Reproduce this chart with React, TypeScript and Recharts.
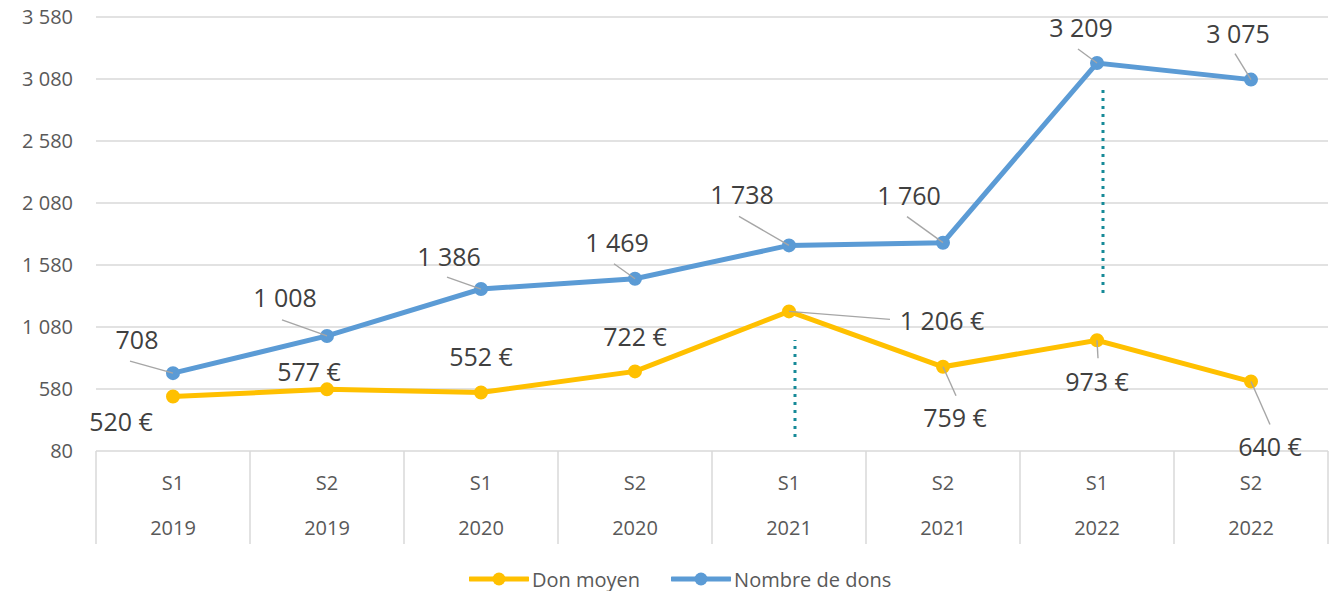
import React from "react";
import {
  ComposedChart,
  Line,
  XAxis,
  YAxis,
  CartesianGrid,
  Legend,
  LabelList,
  ReferenceLine,
} from "recharts";

const semesters = ["S1", "S2", "S1", "S2", "S1", "S2", "S1", "S2"];
const years = ["2019", "2019", "2020", "2020", "2021", "2021", "2022", "2022"];
const nombreDeDons = [708, 1008, 1386, 1469, 1738, 1760, 3209, 3075];
const donMoyen = [520, 577, 552, 722, 1206, 759, 973, 640];
const yTicks = [80, 580, 1080, 1580, 2080, 2580, 3080, 3580];

// dotted annotation markers: [category, from, to]
const markers: [string, number, number][] = [
  ["2021-S1", 193, 975],
  ["2022-S1", 1354, 2991],
];

const chartData = semesters.map((s, i) => ({
  key: `${years[i]}-${s}`,
  sem: s,
  year: years[i],
  dons: nombreDeDons[i],
  moyen: donMoyen[i],
}));

const W = 1338;
const H = 591;
const margin = { top: 17, right: 10, left: 0, bottom: 0 };
const yAxisWidth = 96;
const band = (W - margin.left - margin.right - yAxisWidth) / 8;
const font = "'Open Sans', sans-serif";
const blue = "#5b9bd5";
const yellow = "#ffc000";

const fmt = (n: number) => String(n).replace(/\B(?=(\d{3})+(?!\d))/g, " ");

// label placement relative to point: [text dx, text dy, leader dx, leader dy] (null = no leader)
const blueLabelPos: [number, number, number | null, number | null][] = [
  [-36, -33, -43, -12],
  [-42, -38, -45, -16],
  [-32, -32, -34, -12],
  [-18, -36, -21, -15],
  [-47, -50, -50, -29],
  [-34, -47, -36, -26],
  [-16, -35, -19, -14],
  [-13, -46, -16, -26],
];
const yellowLabelPos: [number, number, number | null, number | null][] = [
  [-52, 26, null, null],
  [-18, -17, null, null],
  [0, -35, null, null],
  [0, -34, null, null],
  [153, 10, 101, 8],
  [12, 51, 13, 29],
  [0, 42, 1, 18],
  [19, 65, 19, 43],
];

const makeLabel =
  (pos: typeof blueLabelPos, suffix: string) => (props: any) => {
    const { x, y, value, index } = props;
    const [dx, dy, lx, ly] = pos[index];
    return (
      <g>
        {lx !== null && ly !== null && (
          <line
            x1={x}
            y1={y}
            x2={x + lx}
            y2={y + ly}
            stroke="#a6a6a6"
            strokeWidth={1.4}
          />
        )}
        <text
          x={x + dx}
          y={y + dy}
          dy="0.36em"
          textAnchor="middle"
          fontSize={25}
          fontFamily={font}
          fill="#404040"
        >
          {fmt(value) + suffix}
        </text>
      </g>
    );
  };

const CategoryTick = (props: any) => {
  const { x, y, payload, index } = props;
  const d = chartData[index] || chartData.find((c) => c.key === payload.value);
  const left = x - band / 2;
  const right = x + band / 2;
  return (
    <g>
      <line x1={left} y1={y} x2={left} y2={y + 93} stroke="#d9d9d9" strokeWidth={1.5} />
      {index === chartData.length - 1 && (
        <line x1={right} y1={y} x2={right} y2={y + 93} stroke="#d9d9d9" strokeWidth={1.5} />
      )}
      <text x={x} y={y + 32} dy="0.36em" textAnchor="middle" fontSize={20} fontFamily={font} fill="#595959">
        {d.sem}
      </text>
      <text x={x} y={y + 77} dy="0.36em" textAnchor="middle" fontSize={20} fontFamily={font} fill="#595959">
        {d.year}
      </text>
    </g>
  );
};

const DottedMarker = (props: any) => {
  const { x1, y1, x2, y2 } = props;
  return (
    <line
      x1={x1 + 6}
      y1={y1}
      x2={x2 + 6}
      y2={y2}
      stroke="#168a98"
      strokeWidth={3}
      strokeDasharray="3 5"
    />
  );
};

const LegendIcon = ({ color }: { color: string }) => (
  <svg width={60} height={14} style={{ marginRight: 3 }}>
    <line x1={1} y1={7} x2={59} y2={7} stroke={color} strokeWidth={5} strokeLinecap="round" />
    <circle cx={30} cy={7} r={6.5} fill={color} />
  </svg>
);

const CustomLegend = () => (
  <div
    style={{
      height: 46,
      boxSizing: "border-box",
      paddingTop: 22,
      paddingLeft: 469,
      display: "flex",
      alignItems: "center",
      fontFamily: font,
      fontSize: 20,
      color: "#595959",
    }}
  >
    <div style={{ display: "flex", alignItems: "center", height: 24, marginRight: 31 }}>
      <LegendIcon color={yellow} />
      <span>Don moyen</span>
    </div>
    <div style={{ display: "flex", alignItems: "center", height: 24 }}>
      <LegendIcon color={blue} />
      <span>Nombre de dons</span>
    </div>
  </div>
);

const App = () => {
  return (
    <div style={{ position: "absolute", left: 0, top: 0, width: W, height: H, background: "#fff" }}>
      <ComposedChart width={W} height={H} data={chartData} margin={margin}>
        <CartesianGrid vertical={false} stroke="#d9d9d9" strokeWidth={1.5} />
        <XAxis
          dataKey="key"
          scale="band"
          axisLine={false}
          tickLine={false}
          tickSize={0}
          tickMargin={0}
          height={94}
          interval={0}
          tick={<CategoryTick />}
        />
        <YAxis
          width={yAxisWidth}
          domain={[80, 3580]}
          ticks={yTicks}
          axisLine={false}
          tickLine={false}
          tickSize={6}
          tickMargin={17}
          tickFormatter={(v: number) => fmt(v)}
          tick={{ fill: "#595959", fontSize: 20, fontFamily: font }}
        />
        <Legend verticalAlign="bottom" content={<CustomLegend />} />
        {markers.map(([k, a, b]) => (
          <ReferenceLine
            key={k}
            segment={[
              { x: k, y: a },
              { x: k, y: b },
            ]}
            shape={<DottedMarker />}
          />
        ))}
        <Line
          dataKey="dons"
          name="Nombre de dons"
          stroke={blue}
          strokeWidth={5}
          dot={{ r: 5.5, strokeWidth: 3, fill: blue, stroke: blue }}
          isAnimationActive={false}
        >
          <LabelList dataKey="dons" content={makeLabel(blueLabelPos, "")} />
        </Line>
        <Line
          dataKey="moyen"
          name="Don moyen"
          stroke={yellow}
          strokeWidth={5}
          dot={{ r: 5.5, strokeWidth: 3, fill: yellow, stroke: yellow }}
          isAnimationActive={false}
        >
          <LabelList dataKey="moyen" content={makeLabel(yellowLabelPos, " €")} />
        </Line>
      </ComposedChart>
    </div>
  );
};

export default App;
